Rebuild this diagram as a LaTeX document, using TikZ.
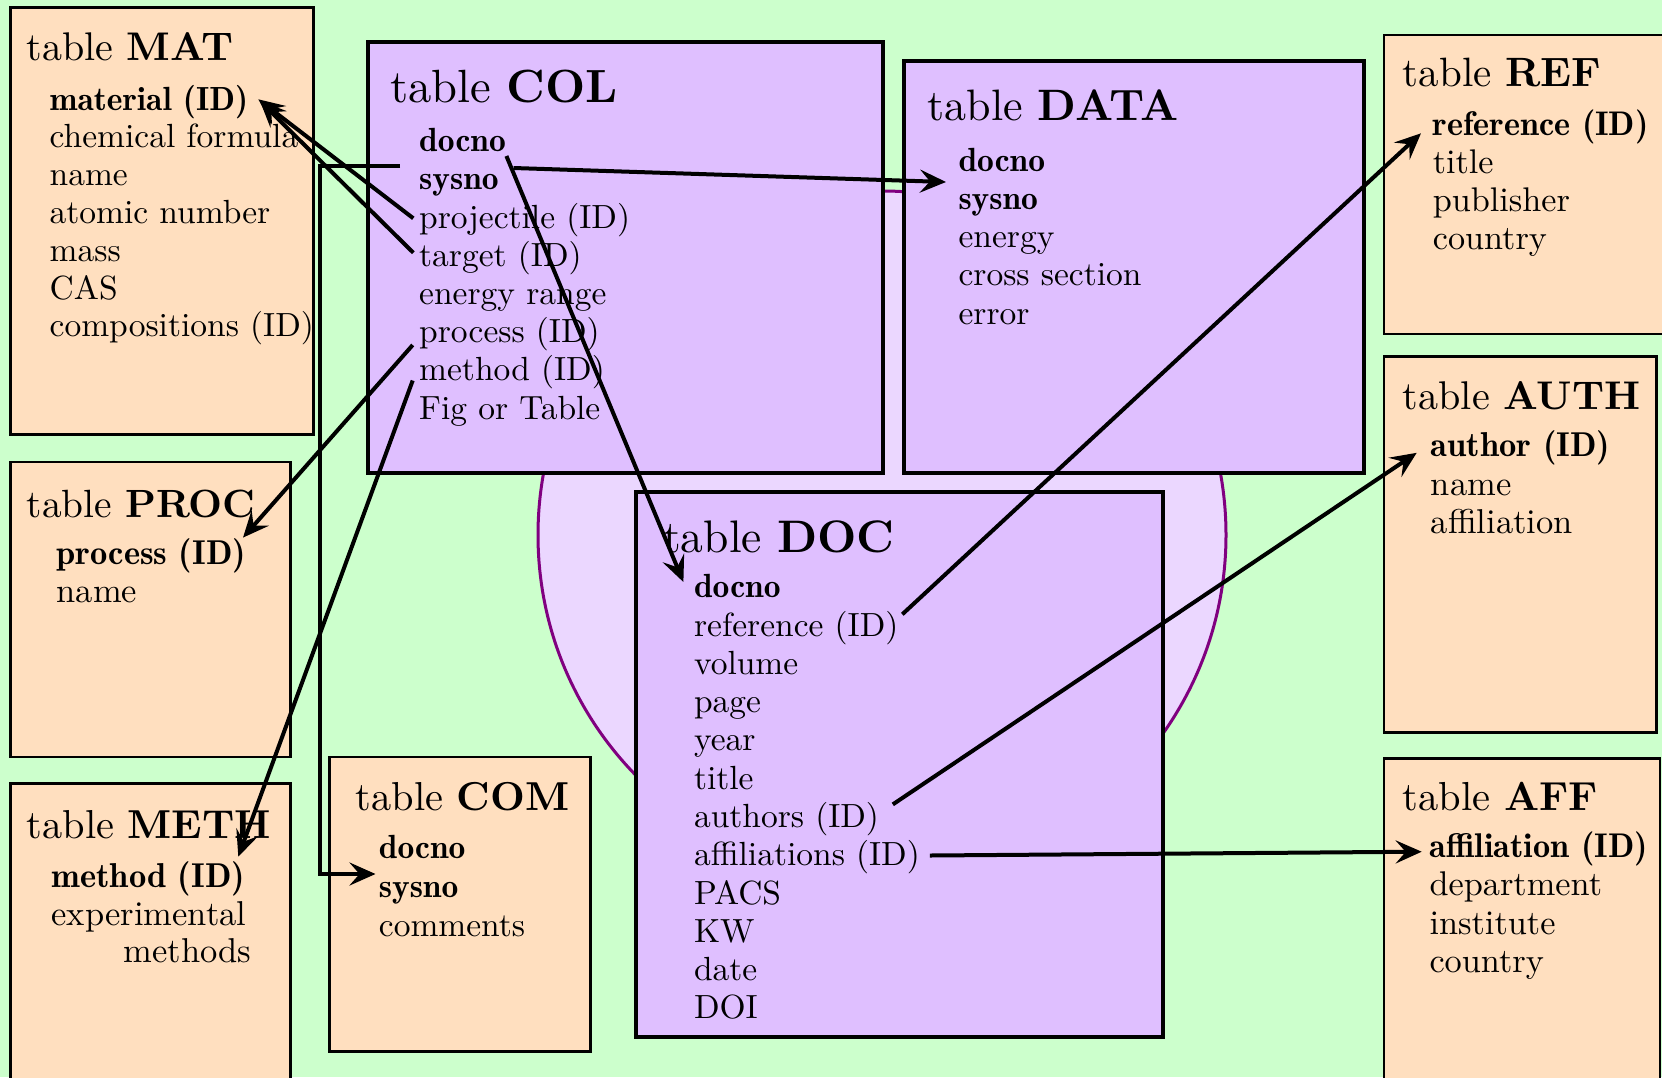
\documentclass[tikz,border=0pt]{standalone}
\usetikzlibrary{arrows.meta}
\definecolor{bg}{HTML}{CCFFCC}
\definecolor{peach}{HTML}{FFDFBF}
\definecolor{lilac}{HTML}{DFBFFF}
\definecolor{pale}{HTML}{EBD7FF}
\definecolor{purp}{HTML}{800080}
\newcommand\rmf[1]{\font\tmpf="[lmroman10-regular]:mapping=tex-text" at #1pt\tmpf}
\newcommand\bxf[1]{\font\tmpf="[lmroman10-bold]:mapping=tex-text" at #1pt\tmpf}
\newcommand\dmf[1]{\font\tmpf="[lmromandemi10-regular]:mapping=tex-text" at #1pt\tmpf}
\newcommand\bd[1]{{\dmf{\cursz}#1}}
\newcommand\tb[1]{{\bxf{\cursz}#1}}
\tikzset{
  pbox/.style={draw=black, line width=2.8pt, fill=peach, inner sep=0pt, outer sep=0pt, anchor=north west},
  vbox/.style={draw=black, line width=4pt, fill=lilac, inner sep=0pt, outer sep=0pt, anchor=north west},
  ttl/.style={anchor=base west, inner sep=0pt, font=\def\cursz{#1}\rmf{#1}},
  itm/.style={anchor=base west, inner sep=0pt, font=\def\cursz{#1}\rmf{#1}},
  conn/.style={line width=4pt, draw=black},
  arr/.style={conn, -{Stealth[length=26pt,width=23pt,inset=10pt]}},
}
\begin{document}
\begin{tikzpicture}[x=1pt,y=-1pt]
\useasboundingbox (0,0) rectangle (1662,1077);
\clip (0,0) rectangle (1662,1077);
\fill[bg] (0,0) rectangle (1662,1077);
% big circle
\node[draw=purp, line width=3pt, fill=pale, circle, minimum size=688pt, inner sep=0pt] (ring) at (882,535) {};
% boxes
\node[pbox, minimum width=303.1pt, minimum height=427.2pt] (mat) at (10.6,7.4) {};
\node[vbox, minimum width=515.1pt, minimum height=430.3pt] (col) at (367.8,42.4) {};
\node[vbox, minimum width=460pt, minimum height=412pt] (data) at (904,61) {};
\node[pbox, minimum width=282pt, minimum height=299pt] (ref) at (1384,35) {};
\node[pbox, minimum width=272.5pt, minimum height=376.1pt] (auth) at (1384,356.5) {};
\node[pbox, minimum width=276pt, minimum height=331.6pt] (aff) at (1384,758.4) {};
\node[pbox, minimum width=279.8pt, minimum height=295pt] (proc) at (10.6,462) {};
\node[pbox, minimum width=279.8pt, minimum height=306.5pt] (meth) at (10.6,783.5) {};
\node[pbox, minimum width=260.8pt, minimum height=294.5pt] (com) at (329.6,757) {};
\node[vbox, minimum width=527pt, minimum height=545pt] (doc) at (635.6,491.5) {};
% MAT
\node[ttl=40] (matt) at (26.5,60) {table \tb{MAT}};
\node[itm=33.5] (mat1) at (49.5,110) {\bd{material (ID)}};
\node[itm=33.5] (mat2) at (49.5,147.8) {chemical formula};
\node[itm=33.5] (mat3) at (49.5,185.6) {name};
\node[itm=33.5] (mat4) at (49.5,223.4) {atomic number};
\node[itm=33.5] (mat5) at (49.5,261.2) {mass};
\node[itm=33.5] (mat6) at (49.5,299) {CAS};
\node[itm=33.5] (mat7) at (49.5,336.8) {compositions (ID)};
% COL
\node[ttl=46.6] (colt) at (390,102) {table \tb{COL}};
\node[itm=33.5] (coldocno) at (419,151.7) {\bd{docno}};
\node[itm=33.5] (colsysno) at (419,189.9) {\bd{sysno}};
\node[itm=33.5] (colproj) at (419,228.1) {projectile (ID)};
\node[itm=33.5] (coltarg) at (419,266.3) {target (ID)};
\node[itm=33.5] (colen) at (419,304.5) {energy range};
\node[itm=33.5] (colproc) at (419,342.7) {process (ID)};
\node[itm=33.5] (colmeth) at (419,380.9) {method (ID)};
\node[itm=33.5] (colfig) at (419,419.1) {Fig or Table};
% DATA
\node[ttl=44] (datat) at (927.4,120) {table \tb{DATA}};
\node[itm=33.5] (datadocno) at (958.3,171) {\bd{docno}};
\node[itm=33.5] (datasysno) at (958.3,209.3) {\bd{sysno}};
\node[itm=33.5] (dataen) at (958.3,247.6) {energy};
\node[itm=33.5] (datacs) at (958.3,285.9) {cross section};
\node[itm=33.5] (dataerr) at (958.3,324.2) {error};
% REF
\node[ttl=41] (reft) at (1402.7,86.7) {table \tb{REF}};
\node[itm=34.2] (refref) at (1432.6,135) {\bd{reference (ID)}};
\node[itm=34.2] (reftit) at (1432.6,173) {title};
\node[itm=34.2] (refpub) at (1432.6,211) {publisher};
\node[itm=34.2] (refcou) at (1432.6,249) {country};
% AUTH
\node[ttl=40.1] (autht) at (1402.7,409.6) {table \tb{AUTH}};
\node[itm=34.5] (authauth) at (1430.7,456.6) {\bd{author (ID)}};
\node[itm=34.5] (authname) at (1430.7,495) {name};
\node[itm=34.5] (authaff) at (1430.7,533.2) {affiliation};
% AFF
\node[ttl=40.5] (afft) at (1402.7,810) {table \tb{AFF}};
\node[itm=34.3] (affaff) at (1429.3,857) {\bd{affiliation (ID)}};
\node[itm=34.3] (affdep) at (1429.3,895.5) {department};
\node[itm=34.3] (affins) at (1429.3,934) {institute};
\node[itm=34.3] (affcou) at (1429.3,972.5) {country};
% PROC
\node[ttl=39.4] (proct) at (26.5,517) {table \tb{PROC}};
\node[itm=34.5] (procproc) at (56.5,564) {\bd{process (ID)}};
\node[itm=34.5] (procname) at (56.5,602.6) {name};
% METH
\node[ttl=40.4] (metht) at (26.5,838.4) {table \tb{METH}};
\node[itm=34.5] (methmeth) at (51.4,887) {\bd{method (ID)}};
\node[itm=34.5] (methexp) at (51.4,925.8) {experimental};
\node[itm=34.5] (methm) at (123.7,962.4) {methods};
% COM
\node[ttl=40.4] (comt) at (355.7,810.7) {table \tb{COM}};
\node[itm=33.5] (comdocno) at (378.7,858.7) {\bd{docno}};
\node[itm=33.5] (comsysno) at (378.7,897.3) {\bd{sysno}};
\node[itm=33.5] (comcom) at (378.7,936) {comments};
% DOC
\node[ttl=45.6] (doct) at (663,552.5) {table \tb{DOC}};
\node[itm=33.5] (docdocno) at (693.8,597.7) {\bd{docno}};
\node[itm=33.5] (docref) at (693.8,636) {reference (ID)};
\node[itm=33.5] (docvol) at (693.8,674.3) {volume};
\node[itm=33.5] (docpage) at (693.8,712.5) {page};
\node[itm=33.5] (docyear) at (693.8,750.8) {year};
\node[itm=33.5] (doctit) at (693.8,789.1) {title};
\node[itm=33.5] (docauth) at (693.8,827.4) {authors (ID)};
\node[itm=33.5] (docaff) at (693.8,865.7) {affiliations (ID)};
\node[itm=33.5] (docpacs) at (693.8,904) {PACS};
\node[itm=33.5] (dockw) at (693.8,942.2) {KW};
\node[itm=33.5] (docdate) at (693.8,980.5) {date};
\node[itm=33.5] (docdoi) at (693.8,1018.8) {DOI};
% connectors
\coordinate (bus) at (320,500);
\draw[arr] ([shift={(-5.7,-9.8)}]colproj.base west) -- ([shift={(208.8,-10.7)}]mat1.base west);
\draw[arr] ([shift={(-5.7,-13.6)}]coltarg.base west) -- ([shift={(210.5,-9)}]mat1.base west);
\draw[arr] ([shift={(-19,14.3)}]coldocno.base west) coordinate (b0) -- (b0 -| bus) |- ([shift={(-3.2,15.3)}]comdocno.base west);
\draw[arr] ([shift={(94.6,-21.9)}]colsysno.base west) -- ([shift={(-12.3,11)}]datadocno.base west);
\draw[arr] ([shift={(87.4,4.3)}]coldocno.base west) -- ([shift={(-10.4,-15.7)}]docdocno.base west);
\draw[arr] ([shift={(-6.3,2.3)}]colproc.base west) -- ([shift={(186.5,-26.4)}]procproc.base west);
\draw[arr] ([shift={(-6.3,-0.4)}]colmeth.base west) -- ([shift={(186.9,-30.3)}]methmeth.base west);
\draw[arr] ([shift={(208.5,-21.7)}]docref.base west) -- ([shift={(-11.6,-1.7)}]refref.base west);
\draw[arr] ([shift={(199,-23)}]docauth.base west) -- ([shift={(-14,-3.8)}]authauth.base west);
\draw[arr] ([shift={(236.1,-10.2)}]docaff.base west) -- ([shift={(-7.6,-5.3)}]affaff.base west);
\end{tikzpicture}
\end{document}
